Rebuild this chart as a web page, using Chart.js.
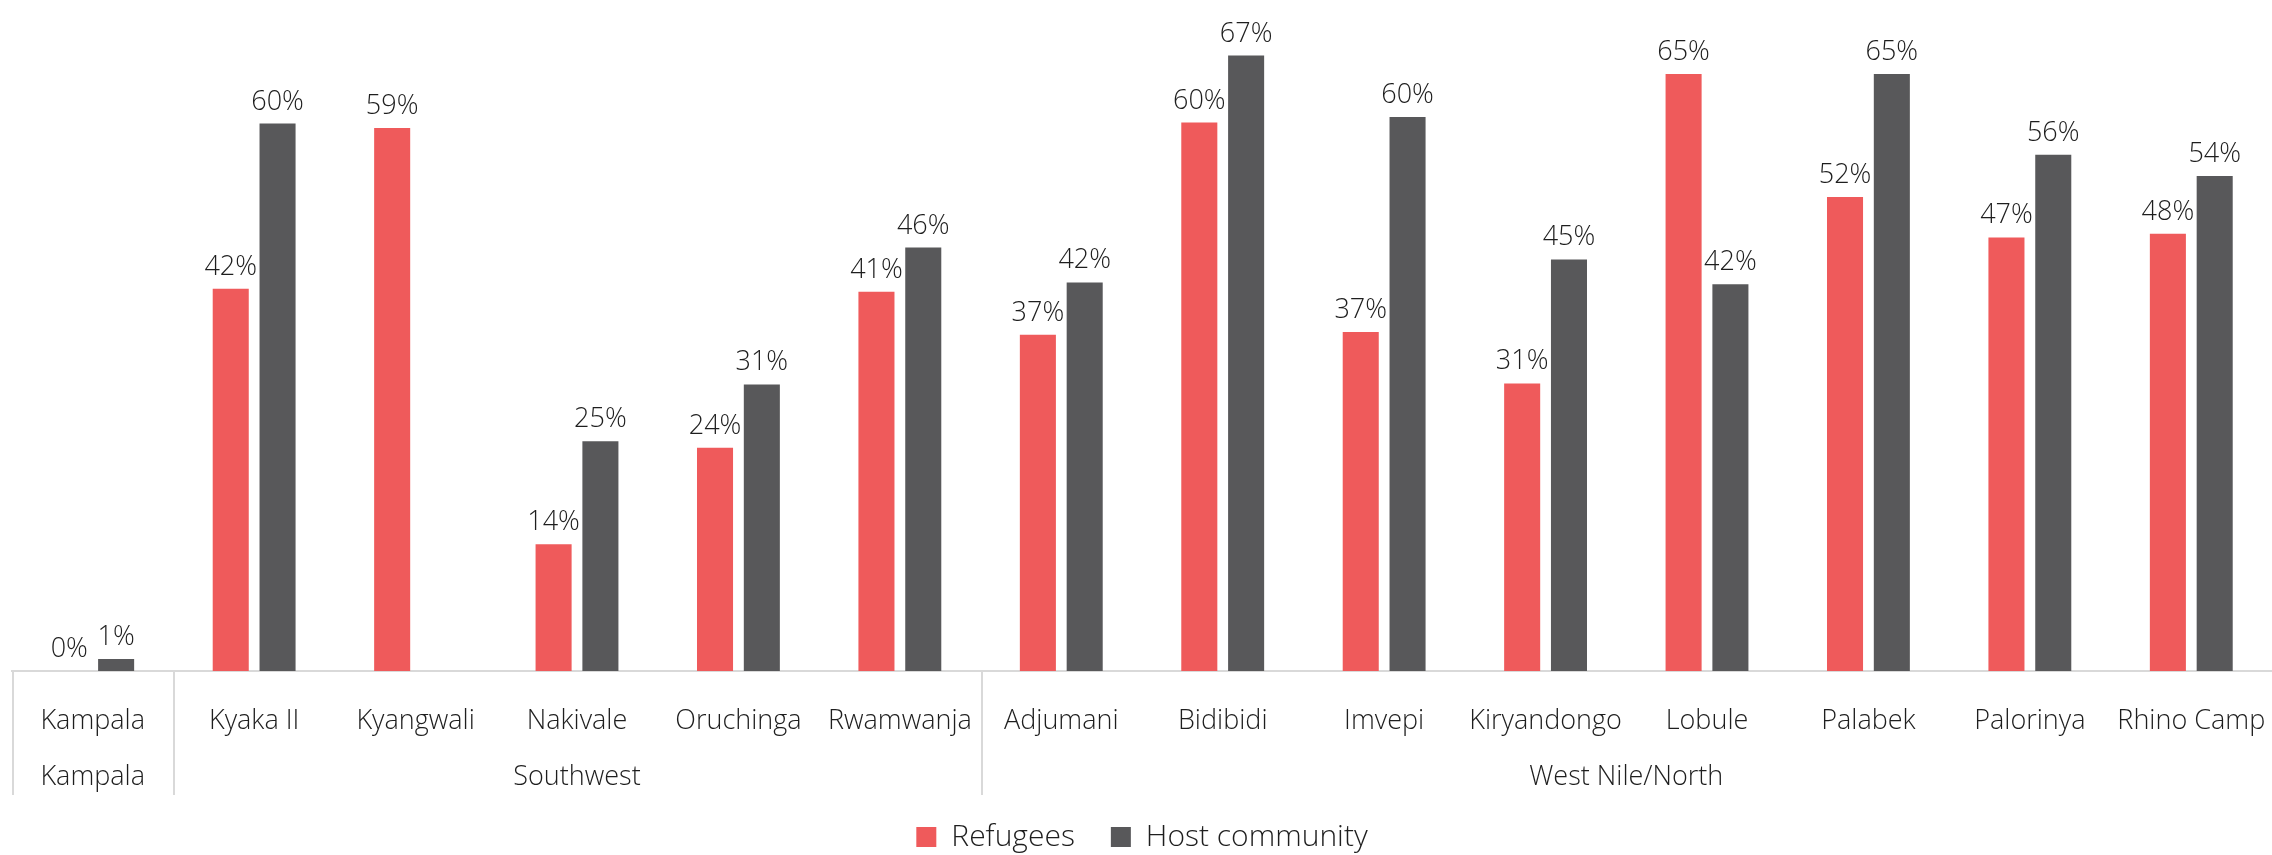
<!DOCTYPE html>
<html>
<head>
<meta charset="utf-8">
<script src="https://cdn.jsdelivr.net/npm/chart.js@4.4.0/dist/chart.umd.min.js"></script>
<style>
  html, body { margin: 0; padding: 0; background: #fff; }
</style>
</head>
<body>
<canvas id="chart" width="2272" height="855"></canvas>
<script>
// camps and the region each belongs to
const camps = ['Kampala', 'Kyaka II', 'Kyangwali', 'Nakivale', 'Oruchinga', 'Rwamwanja',
  'Adjumani', 'Bidibidi', 'Imvepi', 'Kiryandongo', 'Lobule', 'Palabek', 'Palorinya', 'Rhino Camp'];
const regions = ['Kampala', 'Southwest', 'Southwest', 'Southwest', 'Southwest', 'Southwest',
  'West Nile/North', 'West Nile/North', 'West Nile/North', 'West Nile/North', 'West Nile/North',
  'West Nile/North', 'West Nile/North', 'West Nile/North'];

// share in %
const refugees = [0, 41.6, 59.1, 13.8, 24.3, 41.3, 36.6, 59.7, 36.9, 31.3, 65.0, 51.6, 47.2, 47.6];
const hostCommunity = [1.3, 59.6, null, 25.0, 31.2, 46.1, 42.3, 67.0, 60.3, 44.8, 42.1, 65.0, 56.2, 53.9];

const FONT = "'Open Sans', 'Segoe UI', sans-serif";
const TEXT = '#1e1e1e';
const LINE = '#d9d9d9';

// value labels over each bar
const valueLabels = {
  id: 'valueLabels',
  afterDatasetsDraw(chart) {
    const ctx = chart.ctx;
    ctx.save();
    ctx.font = '300 27px ' + FONT;
    ctx.fillStyle = TEXT;
    ctx.textAlign = 'center';
    ctx.textBaseline = 'alphabetic';
    chart.data.datasets.forEach((ds, i) => {
      chart.getDatasetMeta(i).data.forEach((bar, j) => {
        const v = ds.data[j];
        if (v === null || v === undefined) return;
        ctx.fillText(Math.round(v) + '%', bar.x, bar.y - 14);
      });
    });
    ctx.restore();
  }
};

// second axis row: region names and separators
const regionAxis = {
  id: 'regionAxis',
  afterDraw(chart) {
    const ctx = chart.ctx;
    const x = chart.scales.x;
    const bottom = chart.chartArea.bottom;
    const half = (x.getPixelForValue(1) - x.getPixelForValue(0)) / 2;
    ctx.save();
    ctx.strokeStyle = LINE;
    ctx.lineWidth = 2;
    ctx.font = '300 27px ' + FONT;
    ctx.fillStyle = TEXT;
    ctx.textAlign = 'center';
    ctx.textBaseline = 'middle';
    let start = 0;
    for (let i = 1; i <= regions.length; i++) {
      if (i === regions.length || regions[i] !== regions[start]) {
        const left = x.getPixelForValue(start) - half;
        const right = x.getPixelForValue(i - 1) + half;
        ctx.beginPath();
        ctx.moveTo(Math.round(left) + 1, bottom);
        ctx.lineTo(Math.round(left) + 1, bottom + 124);
        ctx.stroke();
        ctx.fillText(regions[start], (left + right) / 2, bottom + 106);
        start = i;
      }
    }
    ctx.restore();
  }
};

new Chart(document.getElementById('chart'), {
  type: 'bar',
  data: {
    labels: camps,
    datasets: [
      {
        label: 'Refugees',
        data: refugees,
        backgroundColor: '#ef5a5b',
        barPercentage: 0.77,
        categoryPercentage: 0.58
      },
      {
        label: 'Host community',
        data: hostCommunity,
        backgroundColor: '#58585a',
        barPercentage: 0.77,
        categoryPercentage: 0.58
      }
    ]
  },
  options: {
    responsive: false,
    animation: false,
    devicePixelRatio: 1,
    layout: { padding: { top: 28, left: 12, right: 0, bottom: -7 } },
    plugins: {
      legend: {
        position: 'bottom',
        labels: {
          boxWidth: 20,
          boxHeight: 20,
          padding: 36,
          color: TEXT,
          font: { family: FONT, size: 30, weight: '300' }
        }
      },
      tooltip: { enabled: false }
    },
    scales: {
      x: {
        grid: { display: false, drawTicks: false },
        border: { display: true, color: LINE, width: 2 },
        ticks: {
          color: TEXT,
          padding: 34,
          autoSkip: false,
          maxRotation: 0,
          font: { family: FONT, size: 27, weight: '300' }
        },
        afterFit(scale) {
          scale.height = 115;
          scale.paddingLeft = 0;
          scale.paddingRight = 0;
        }
      },
      y: { display: false, min: 0, max: 70 }
    }
  },
  plugins: [valueLabels, regionAxis]
});
</script>
</body>
</html>
